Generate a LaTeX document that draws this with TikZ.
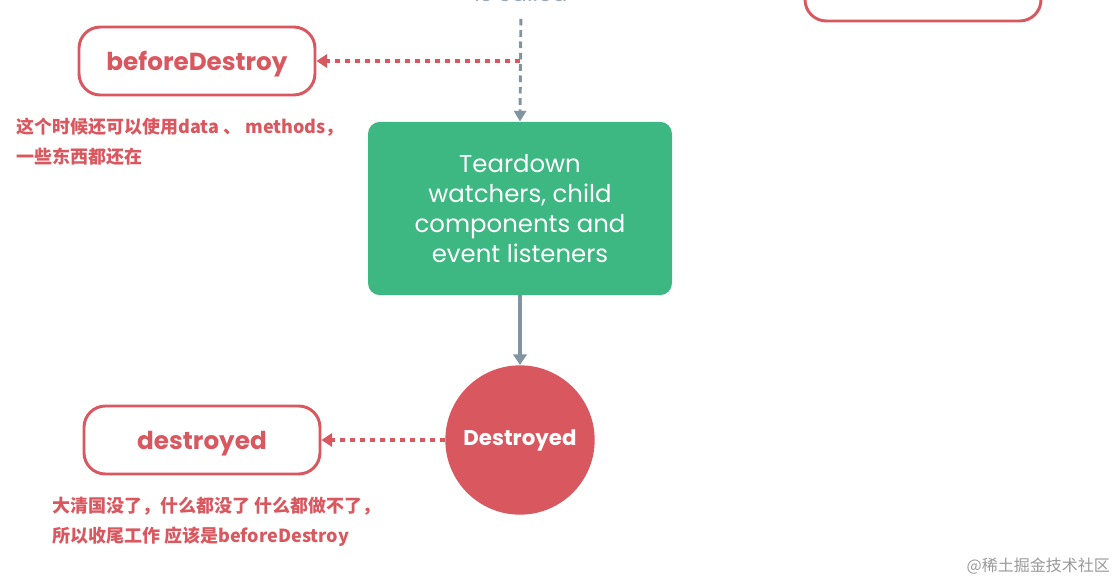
\documentclass[tikz,border=0pt]{standalone}
\usepackage{fontspec}
\setmainfont{Poppins}
\newfontfamily\cjk{Noto Sans CJK SC}
\usetikzlibrary{arrows.meta}
\definecolor{vred}{HTML}{D9575E}
\definecolor{vgreen}{HTML}{3EB882}
\definecolor{vgray}{HTML}{8394A1}
\tikzset{
  hookbox/.style={draw=vred, fill=white, line width=2.2pt, rounded corners=16pt,
    minimum width=177pt, minimum height=51pt, text=vred, text depth=0pt,
    font=\fontsize{18.5}{20}\selectfont\bfseries},
  taskbox/.style={fill=vgreen, rounded corners=9pt, minimum width=228pt,
    minimum height=130pt, text=white, align=center,
    font=\fontsize{18.3}{22.5}\selectfont},
  statecircle/.style={circle, fill=vred, minimum size=112pt, inner sep=0pt,
    text=white, font=\fontsize{16}{18}\selectfont\bfseries},
  notetext/.style={text=vred, align=left, inner sep=0pt,
    font=\cjk\bfseries\fontsize{13.5}{22}\selectfont},
  reddot/.style={draw=vred, line width=2.6pt, dash pattern=on 4pt off 3.5pt,
    -{Triangle[length=8pt,width=10pt]}},
  graydash/.style={draw=vgray, line width=2.2pt, dash pattern=on 5pt off 3.5pt,
    -{Triangle[length=8pt,width=9pt]}},
  graysolid/.style={draw=vgray, line width=2.6pt,
    -{Triangle[length=8pt,width=10pt]}},
}
\begin{document}
\begin{tikzpicture}[x=0.75pt,y=-0.75pt]
\useasboundingbox (0,0) rectangle (1119,581);
\clip (0,0) rectangle (1119,581);

% cut off at the top
\node[anchor=south, inner sep=0pt, align=center, text=vgray!80,
  font=\fontsize{17}{20}\selectfont] (called) at (521,1.5) {when vm.\$destroy()\\is called};
\node[hookbox, text depth=8pt] (updated) at (923,-13) {updated};

% hooks
\node[hookbox] (before) at (197,61) {beforeDestroy};
\node[hookbox] (destroyedhook) at (202,440) {destroyed};

% main flow
\node[taskbox] (teardown) at (520,208.5) {Teardown\\watchers, child\\components and\\event listeners};
\node[statecircle] (destroyed) at (520,440) {Destroyed};

\draw[graydash, shorten <=13pt] (called.south) -- (teardown.north);
\coordinate (fork) at (teardown.north |- before.east);
\draw[reddot] (fork) -- (before.east);
\draw[graysolid] (teardown.south) -- (destroyed.north);
\draw[reddot] (destroyed.west) -- (destroyedhook.east);

% notes
\node[notetext, anchor=base west] (note1) at (16,163) {这个时候还可以使用data 、 methods，\\一些东西都还在};
\node[notetext, anchor=base west] (note2) at (52,542) {大清国没了，什么都没了 什么都做不了，\\所以收尾工作 应该是beforeDestroy};

\node[anchor=base east, inner sep=0pt, text=black!40,
  font=\cjk\fontsize{12}{14}\selectfont] (mark) at (1110,571) {@稀土掘金技术社区};
\end{tikzpicture}
\end{document}
